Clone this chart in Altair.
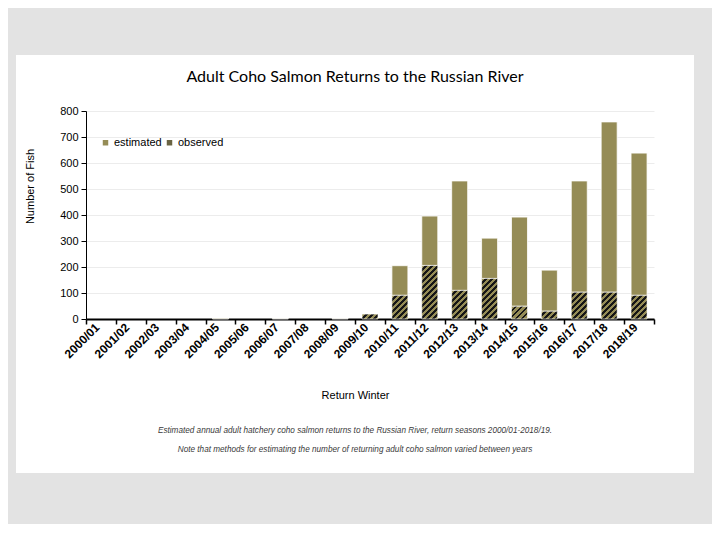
import math
import altair as alt
import pandas as pd

years = ["2000/01", "2001/02", "2002/03", "2003/04", "2004/05", "2005/06", "2006/07",
         "2007/08", "2008/09", "2009/10", "2010/11", "2011/12", "2012/13", "2013/14",
         "2014/15", "2015/16", "2016/17", "2017/18", "2018/19"]
observed = [0, 0, 0, 0, 0, 0, 0, 0, 0, 19, 91, 206, 110, 156, 49, 30, 103, 103, 91]
estimated = [0, 0, 0, 0, 3, 0, 2, 0, 2, 0, 114, 190, 421, 155, 343, 158, 428, 655, 547]
y_ticks = [0, 100, 200, 300, 400, 500, 600, 700, 800]

title_text = "Adult Coho Salmon Returns to the Russian River"
caption1 = ("Estimated annual adult hatchery coho salmon returns to the Russian River, "
            "return seasons 2000/01-2018/19.")
caption2 = "Note that methods for estimating the number of returning adult coho salmon varied between years"

OLIVE = "#958c56"
DARK = "#161616"
GRAY_BG = "#e3e3e3"
FONT = "Liberation Sans"

W, H = 568, 208
BAR = 16
YMAX = 800

df = pd.DataFrame({"year": years, "observed": observed, "estimated": estimated})
df["total"] = df["observed"] + df["estimated"]
df["series"] = "estimated"

x_scale = alt.Scale(domain=years, paddingInner=0, paddingOuter=0)
y_scale = alt.Scale(domain=[0, YMAX], nice=False)

x_axis = alt.Axis(labelAngle=-45, labelAlign="right", labelBaseline="middle",
                  labelFont=FONT, labelFontSize=12, labelFontWeight="bold",
                  labelColor="black", labelPadding=1, labelOffset=-4,
                  labelOverlap=False,
                  tickBand="extent", ticks=True, tickSize=5, tickColor="black",
                  tickWidth=1.5, domainColor="black", domainWidth=2,
                  titleFont=FONT, titleFontSize=11, titleFontWeight="normal",
                  titleColor="black", titleX=269, titleY=76, titleBaseline="middle")
y_axis = alt.Axis(values=y_ticks, labelOverlap=False, grid=True,
                  gridColor="#ececec", gridWidth=1,
                  domainColor="black", tickColor="black", tickSize=5,
                  labelFont=FONT, labelFontSize=11, labelColor="black",
                  labelPadding=3, titleFont=FONT, titleFontSize=11,
                  titleFontWeight="normal", titleColor="black",
                  titleX=-56, titleY=75, titleAngle=-90,
                  titleBaseline="middle")


def x_enc():
    return alt.X("year:N", sort=years, title="Return Winter", scale=x_scale, axis=x_axis)


def y_enc(field):
    return alt.Y(field, scale=y_scale, title="Number of Fish", axis=y_axis)


est = alt.Chart(df).transform_filter("datum.estimated > 0").mark_bar(
    size=BAR, stroke="white", strokeWidth=0.8
).encode(
    x=x_enc(),
    y=y_enc("total:Q"),
    y2="observed:Q",
    color=alt.Color("series:N",
                    scale=alt.Scale(domain=["estimated", "observed"], range=[OLIVE, "#6a6443"]),
                    legend=alt.Legend(orient="none", legendX=14, legendY=26,
                                      direction="horizontal", title=None,
                                      symbolType="square", symbolSize=30,
                                      symbolStrokeWidth=0, labelFont=FONT,
                                      labelFontSize=11, labelColor="black",
                                      labelOffset=3, columnPadding=2)),
)


def hatch(value):
    h = value * H / YMAX
    w = BAR
    a = (w + h) / (w * w + h * h)
    L = w + h
    p = 6.0
    stops = []
    k = 0
    while k * p < L:
        s = k * p / L
        m = min((k * p + 0.55 * p) / L, 1.0)
        e = min((k + 1) * p / L, 1.0)
        stops += [{"offset": s, "color": OLIVE}, {"offset": m, "color": OLIVE},
                  {"offset": m, "color": DARK}, {"offset": e, "color": DARK}]
        k += 1
    return {"gradient": "linear", "x1": 0, "y1": 0, "x2": a * w, "y2": a * h,
            "stops": stops}


obs_layers = []
for yr, v in zip(years, observed):
    if v <= 0:
        continue
    obs_layers.append(
        alt.Chart(df).transform_filter(alt.datum.year == yr).mark_bar(
            size=BAR, color=hatch(v), stroke="white", strokeWidth=0.6
        ).encode(x=x_enc(), y=y_enc("observed:Q"), y2=alt.datum(0))
    )

frame = alt.Chart(pd.DataFrame({"f": [1]})).mark_rect(
    filled=False, stroke=GRAY_BG, strokeWidth=140
).encode(x=alt.value(-70 - 70), x2=alt.value(608 + 70),
         y=alt.value(-56 - 70), y2=alt.value(362 + 70))

title = alt.Chart(pd.DataFrame({"t": [title_text]})).mark_text(
    font="Lato", fontSize=16, color="black", baseline="middle", align="center"
).encode(text="t:N", x=alt.value(269), y=alt.value(-34))

cap = alt.Chart(pd.DataFrame({"t": [caption1, caption2], "yy": [320, 339]})).mark_text(
    font=FONT, fontSize=8.2, fontStyle="italic", color="#3a3a3a",
    baseline="middle", align="center"
).encode(text="t:N", x=alt.value(269), y=alt.Y("yy:Q", scale=None))

chart = alt.layer(est, *obs_layers, frame, title, cap).properties(
    width=W, height=H, background="white",
    padding={"left": 78, "top": 103, "right": 58, "bottom": 205},
    autosize=alt.AutoSizeParams(type="none"),
).configure_view(stroke=None)

chart.save("out.html", embed_options={"renderer": "svg", "actions": False})
